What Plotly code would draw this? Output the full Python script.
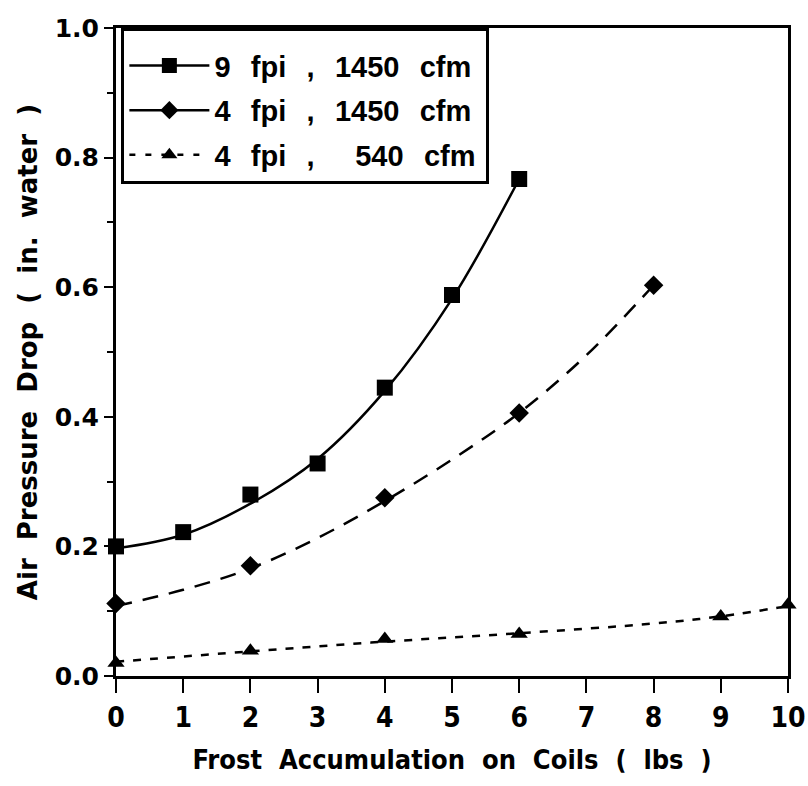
import plotly.graph_objects as go

x_sq = [0, 1, 2, 3, 4, 5, 6]
y_sq = [0.200, 0.222, 0.280, 0.328, 0.445, 0.588, 0.767]

x_di = [0, 2, 4, 6, 8]
y_di = [0.112, 0.170, 0.275, 0.406, 0.603]

x_tr = [0, 2, 4, 6, 9, 10]
y_tr = [0.020, 0.039, 0.057, 0.065, 0.092, 0.110]

# Fitted curves as drawn in the chart
cx_sq = [0, 1, 2, 3, 4, 5, 6]
cy_sq = [0.197, 0.218, 0.266, 0.335, 0.440, 0.582, 0.767]

cx_di = [0, 1, 2, 3, 4, 5, 6, 7, 8]
cy_di = [0.108, 0.133, 0.166, 0.213, 0.270, 0.334, 0.406, 0.495, 0.603]

cx_tr = [0, 2, 4, 6, 8, 9, 10]
cy_tr = [0.022, 0.038, 0.053, 0.066, 0.081, 0.092, 0.108]

G = "\u2002\u2009"
names = ["9" + G + "fpi" + G + "," + G + "1450" + G + "cfm\u2009",
         "4" + G + "fpi" + G + "," + G + "1450" + G + "cfm\u2009",
         "4" + G + "fpi" + G + "," + G + "\u2002\u2009540" + G + "cfm\u2009"]

x_ticks = list(range(0, 11))
y_ticks = [0.0, 0.2, 0.4, 0.6, 0.8, 1.0]
y_ticklabels = ["0.0", "0.2", "0.4", "0.6", "0.8", "1.0"]

FONT = "Liberation Sans"
COND = "DejaVu Sans Condensed, Liberation Sans"

fig = go.Figure()

# curves
fig.add_trace(go.Scatter(x=cx_sq, y=cy_sq, mode="lines", showlegend=False, hoverinfo="skip",
                         line=dict(color="black", width=2.5, shape="spline", smoothing=1.0)))
fig.add_trace(go.Scatter(x=cx_di, y=cy_di, mode="lines", showlegend=False, hoverinfo="skip",
                         line=dict(color="black", width=2.5, shape="spline", smoothing=1.0,
                                   dash="16px,11px")))
fig.add_trace(go.Scatter(x=cx_tr, y=cy_tr, mode="lines", showlegend=False, hoverinfo="skip",
                         line=dict(color="black", width=2.5, shape="spline", smoothing=1.0,
                                   dash="8px,9px")))

# data markers
fig.add_trace(go.Scatter(x=x_sq, y=y_sq, mode="markers", showlegend=False, cliponaxis=False,
                         marker=dict(symbol="square", size=16, color="black")))
fig.add_trace(go.Scatter(x=x_di, y=y_di, mode="markers", showlegend=False, cliponaxis=False,
                         marker=dict(symbol="diamond", size=15, color="black")))
fig.add_trace(go.Scatter(x=x_tr, y=y_tr, mode="markers", showlegend=False, cliponaxis=False,
                         marker=dict(symbol="triangle-up", size=15, color="black")))

# legend entries
fig.add_trace(go.Scatter(x=[None], y=[None], name=names[0], legendgroup="a", mode="lines+markers",
                         line=dict(color="black", width=2.5),
                         marker=dict(symbol="square", size=15, color="black")))
fig.add_trace(go.Scatter(x=[None], y=[None], name=names[1], legendgroup="b", mode="lines+markers",
                         line=dict(color="black", width=2.5),
                         marker=dict(symbol="diamond", size=14, color="black")))
fig.add_trace(go.Scatter(x=[None], y=[None], name=names[2], legendgroup="c", mode="lines+markers",
                         line=dict(color="black", width=2.5, dash="6px,10px"),
                         marker=dict(symbol="triangle-up", size=14, color="black")))

fig.update_layout(
    width=808, height=786,
    margin=dict(l=116, r=20, t=28, b=110),
    paper_bgcolor="white", plot_bgcolor="white",
    font=dict(family=FONT, color="black", size=20),
    showlegend=True,
    legend=dict(
        x=0.008, y=1.0, xanchor="left", yanchor="top",
        bgcolor="white", bordercolor="black", borderwidth=3,
        font=dict(family=FONT, size=29, color="black", weight="bold"),
        tracegroupgap=4, itemwidth=80,
        title=dict(text="\u00a0", font=dict(size=7)),
    ),
    xaxis=dict(
        range=[0, 10], tickvals=x_ticks, ticks="outside", ticklen=14, tickwidth=2,
        tickcolor="black", showline=True, linecolor="black", linewidth=3, mirror=True,
        showgrid=False, zeroline=False, automargin=False,
        tickfont=dict(family=COND, size=28, weight="bold"),
        title=dict(text="Frost\u00a0 Accumulation\u00a0 on\u00a0 Coils\u00a0 (\u00a0 lbs\u00a0 )",
                   font=dict(family=COND, size=27, weight="bold"), standoff=18),
    ),
    yaxis=dict(
        range=[0, 1.0], tickvals=y_ticks, ticktext=y_ticklabels, ticks="outside",
        ticklen=9, tickwidth=2, tickcolor="black",
        minor=dict(dtick=0.1, ticks="outside", ticklen=6, tickwidth=2, tickcolor="black"),
        showline=True, linecolor="black", linewidth=3, mirror=True,
        showgrid=False, zeroline=False,
        tickfont=dict(family="DejaVu Sans", size=25, weight="bold"),
        title=dict(text="Air\u00a0 Pressure\u00a0 Drop\u00a0 (\u00a0 in.\u00a0 water\u00a0 )",
                   font=dict(family="DejaVu Sans", size=26, weight="bold"), standoff=10),
    ),
)

fig.write_html("out.html")
